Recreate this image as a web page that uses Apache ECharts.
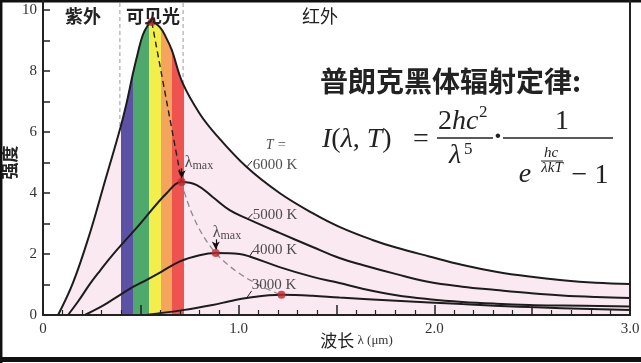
<!DOCTYPE html>
<html><head><meta charset="utf-8">
<script src="https://cdn.jsdelivr.net/npm/echarts@6/dist/echarts.min.js"></script>
<style>html,body{margin:0;padding:0;background:#fff}#c{width:641px;height:363px}</style>
</head><body><div id="c"></div>
<script>
// ---- data (x: wavelength in μm, y: intensity) ----
const curve6000 = [[0.077,0],[0.153,1.05],[0.24,2.69],[0.306,4.15],[0.398,6.2],[0.429,7.0],[0.459,7.9],[0.485,8.6],[0.51,9.18],[0.536,9.5],[0.556,9.61],[0.597,9.44],[0.628,9.11],[0.658,8.69],[0.714,7.6],[0.801,6.6],[0.886,5.9],[1.041,4.85],[1.209,4.0],[1.378,3.34],[1.515,2.89],[1.684,2.46],[1.8,2.22],[1.974,1.92],[2.145,1.64],[2.315,1.42],[2.485,1.26],[2.655,1.14],[2.825,1.06],[3.0,1.02]];
const curve5000 = [[0.128,0],[0.18,0.45],[0.24,1.02],[0.291,1.45],[0.357,1.98],[0.459,2.72],[0.495,2.98],[0.633,4.0],[0.709,4.36],[0.786,4.26],[0.867,3.87],[0.954,3.44],[1.046,3.15],[1.209,2.69],[1.378,2.23],[1.515,1.87],[1.633,1.64],[1.806,1.34],[1.974,1.08],[2.143,0.93],[2.316,0.82],[2.485,0.72],[2.653,0.64],[2.827,0.59],[3.0,0.56]];
const curve4000 = [[0.214,0],[0.29,0.25],[0.33,0.4],[0.46,0.92],[0.5,1.05],[0.6,1.4],[0.7,1.76],[0.8,1.96],[0.883,2.03],[1.005,2.0],[1.056,1.92],[1.209,1.57],[1.378,1.25],[1.515,1.05],[1.633,0.86],[1.806,0.65],[1.974,0.52],[2.143,0.43],[2.316,0.37],[2.485,0.33],[2.653,0.31],[3.0,0.28]];
const curve3000 = [[0.525,0],[0.714,0.16],[0.867,0.33],[0.954,0.45],[1.041,0.56],[1.219,0.66],[1.378,0.63],[1.515,0.57],[1.806,0.47],[2.143,0.36],[2.485,0.26],[3.0,0.16]];
const tempNames = ['6000 K', '5000 K', '4000 K', '3000 K'];
const tempLabelIdx = [17, 12, 10, 4];
const peakX = [0.556, 0.709, 0.883, 1.219];
const peakY = [9.61, 4.36, 2.03, 0.66];
const bandEdges = [0.399, 0.46, 0.542, 0.603, 0.659, 0.72];
const bandColors = ['#5b52a6', '#4fa86c', '#f3ee4b', '#f5a45c', '#ef5350'];
const visibleBounds = [0.393, 0.716];
const regionLabels = ['紫外', '可见光', '红外'];
const xLabelValues = [0, 1, 2, 3];
const yLabelValues = [0, 2, 4, 6, 8, 10];

const serif = 'Liberation Serif';
const cjk = 'Noto Sans CJK SC';
const ink = '#1c1c1c';
const curves = [curve6000, curve5000, curve4000, curve3000];

const pieces = bandColors.map((c, i) => ({ gte: bandEdges[i], lt: bandEdges[i + 1], color: c }));

const series = [];
// dashed boundaries of the visible band
visibleBounds.forEach(b => series.push({
  type: 'line', data: [[b, 0], [b, 10.4]], symbol: 'none', silent: true, z: 1, clip: false,
  lineStyle: { color: '#9a9a9a', width: 1, type: [4, 3] }
}));
// curves
curves.forEach((d, i) => series.push({
  type: 'line', data: d, smooth: 0.4, symbol: 'none', silent: true,
  lineStyle: { color: ink, width: 2 },
  areaStyle: i === 0 ? { opacity: 1 } : undefined,
  z: i === 0 ? 2 : 3
}));
const areaSeriesIndex = 2;
// lambda max path
series.push({
  type: 'line', data: [[peakX[0], peakY[0]], [peakX[1], peakY[1]]], symbol: 'none', silent: true, z: 4,
  lineStyle: { color: '#222', width: 1.4, type: [6, 4] }
});
series.push({
  type: 'line', data: peakX.slice(1).map((x, i) => [x, peakY[i + 1]]), smooth: 0.5, symbol: 'none', silent: true, z: 4,
  lineStyle: { color: '#8a8a8a', width: 1.3, type: [6, 4] }
});
// temperature labels anchored on curves, with short leader ticks
const tempOffsets = [[6, -12], [5, -4], [3, -6], [5, -13]];
const leaderDelta = [[0.027, 0.2], [0.025, 0.17], [0.016, 0.17], [0.025, 0.23]];
series.push({
  type: 'scatter', symbolSize: 0, silent: true, z: 6,
  data: curves.map((c, i) => ({
    value: c[tempLabelIdx[i]],
    label: {
      show: true, position: 'right', distance: 0, offset: tempOffsets[i],
      formatter: i === 0 ? '{t|T =}\n{k|' + tempNames[i] + '}' : '{k|' + tempNames[i] + '}',
      rich: {
        t: { fontFamily: serif, fontStyle: 'italic', fontSize: 14, color: '#222', padding: [0, 0, 0, 13], lineHeight: 19 },
        k: { fontFamily: serif, fontSize: 15, color: '#222', lineHeight: 19 }
      }
    }
  })),
  markLine: {
    silent: true, symbol: ['none', 'none'], label: { show: false },
    lineStyle: { color: '#222', width: 1, type: 'solid' },
    data: curves.map((c, i) => {
      const p = c[tempLabelIdx[i]];
      return [{ coord: p }, { coord: [p[0] + leaderDelta[i][0], p[1] + leaderDelta[i][1]] }];
    })
  }
});
// peak dots with lambda-max labels and arrows
const lmOffsets = [null, [-1, -19], [-7, -20], null];
series.push({
  type: 'scatter', symbolSize: 8, z: 8, silent: true,
  itemStyle: { color: '#c0272d' },
  data: peakX.map((x, i) => ({
    value: [x, peakY[i]],
    label: lmOffsets[i] ? {
      show: true, position: 'right', distance: 0, offset: lmOffsets[i],
      formatter: '{l|λ}{s|max}',
      rich: {
        l: { fontFamily: serif, fontSize: 16, color: '#222', lineHeight: 18 },
        s: { fontFamily: serif, fontSize: 12, color: '#222', verticalAlign: 'bottom', lineHeight: 18, padding: [7, 0, 0, 0] }
      }
    } : { show: false }
  })),
  markLine: {
    silent: true, symbol: ['none', 'arrow'], symbolSize: [6, 8],
    label: { show: false },
    lineStyle: { color: '#111', width: 1.2, type: 'solid' },
    data: [1, 2].map(i => [{ coord: [peakX[i], peakY[i] + 0.45] }, { coord: [peakX[i], peakY[i] + 0.12] }])
  }
});

const txt = (text, x, y, font, extra) => ({
  type: 'text', x, y, z: 100, silent: true,
  style: Object.assign({ text, font, fill: '#222', align: 'center', verticalAlign: 'middle' }, extra || {})
});
const line = (x1, y1, x2, y2, w, c) => ({ type: 'line', z: 100, silent: true, shape: { x1, y1, x2, y2 }, style: { stroke: c || '#222', lineWidth: w } });

const graphic = [
  line(0, 1.2, 641, 1.2, 2.5, '#111'),
  line(1.2, 0, 1.2, 363, 2.5, '#111'),
  line(0, 359.5, 641, 359.5, 5, '#111'),
  line(43, 0, 43, 11, 2, '#222'),
  line(630, 0, 630, 11, 2, '#222'),
  txt(regionLabels[0], 83, 16, 'bold 18px "' + cjk + '"'),
  txt(regionLabels[1], 153, 16, 'bold 18px "' + cjk + '"'),
  txt(regionLabels[2], 320, 16, '18px "' + cjk + '"'),
  txt('普朗克黑体辐射定律:', 320, 81, 'bold 28px "' + cjk + '"', { align: 'left' }),
  {
    type: 'text', x: 322, y: 140, z: 100, silent: true,
    style: {
      text: '{i|I}{n|(}{i|λ}{n|, }{i|T}{n|)}', align: 'left', verticalAlign: 'middle',
      rich: { i: { font: 'italic 28px "' + serif + '"', fill: '#222' }, n: { font: '28px "' + serif + '"', fill: '#222' } }
    }
  },
  txt('=', 421, 140, '28px "' + serif + '"'),
  {
    type: 'text', x: 438, y: 122, z: 100, silent: true,
    style: {
      text: '{n|2}{i|hc}', align: 'left', verticalAlign: 'middle',
      rich: { i: { font: 'italic 28px "' + serif + '"', fill: '#222' }, n: { font: '28px "' + serif + '"', fill: '#222' } }
    }
  },
  txt('2', 479, 113, '17px "' + serif + '"', { align: 'left' }),
  line(437, 138, 493, 138, 1.5),
  txt('λ', 449, 156, 'italic 28px "' + serif + '"', { align: 'left' }),
  txt('5', 464, 150, '17px "' + serif + '"', { align: 'left' }),
  txt('·', 498, 138, 'bold 28px "' + serif + '"'),
  txt('1', 562, 122, '28px "' + serif + '"'),
  line(503, 138, 613, 138, 1.5),
  txt('e', 525, 175, 'italic 28px "' + serif + '"'),
  txt('hc', 551, 153, 'italic 15px "' + serif + '"'),
  line(541, 161, 563, 161, 1),
  txt('λkT', 552, 168, 'italic 15px "' + serif + '"'),
  txt('− 1', 590, 176, '28px "' + serif + '"')
];

const option = {
  animation: false,
  backgroundColor: '#fff',
  grid: { left: 43, right: 11, top: 10, bottom: 48, outerBoundsMode: 'none', containLabel: false },
  visualMap: {
    type: 'piecewise', show: false, dimension: 0, seriesIndex: areaSeriesIndex,
    pieces, outOfRange: { color: '#fbe9f1' }
  },
  xAxis: {
    type: 'value', min: 0, max: 3, interval: 0.5, z: 5,
    axisLine: { lineStyle: { color: '#222', width: 2 } },
    axisTick: { inside: true, length: 10, lineStyle: { color: '#222', width: 1.5 } },
    minorTick: { show: true, splitNumber: 5, length: 5, lineStyle: { color: '#222', width: 1.2 } },
    splitLine: { show: false },
    axisLabel: {
      fontFamily: serif, fontSize: 15, color: '#333', margin: 7,
      formatter: v => xLabelValues.includes(v) ? (v === 0 ? '0' : v.toFixed(1)) : ''
    },
    name: '{a|波长} {b|λ (μm)}', nameLocation: 'middle', nameGap: 17, nameMoveOverlap: false,
    nameTextStyle: {
      padding: [0, 0, 0, 40],
      rich: {
        a: { fontFamily: cjk, fontSize: 17, color: '#222' },
        b: { fontFamily: serif, fontSize: 13, color: '#333' }
      }
    }
  },
  yAxis: [{
    type: 'value', min: 0, max: 10, interval: 1, z: 5,
    axisLine: { show: true, lineStyle: { color: '#222', width: 2 } },
    axisTick: { show: true, inside: true, length: 7, lineStyle: { color: '#222', width: 1.5 } },
    splitLine: { show: false },
    axisLabel: {
      fontFamily: serif, fontSize: 15, color: '#333', margin: 6,
      formatter: v => yLabelValues.includes(v) ? String(v) : ''
    },
    name: '强度', nameLocation: 'middle', nameGap: 25, nameMoveOverlap: false,
    nameTextStyle: { fontFamily: cjk, fontSize: 17, fontWeight: 'bold', color: '#222' }
  }, {
    type: 'value', min: 0, max: 10, position: 'right', z: 5,
    axisLine: { show: true, lineStyle: { color: '#222', width: 2 } },
    axisTick: { show: false }, axisLabel: { show: false }, splitLine: { show: false }
  }],
  series,
  graphic
};
const chart = echarts.init(document.getElementById('c'));
chart.setOption(option);
</script>
</body></html>
